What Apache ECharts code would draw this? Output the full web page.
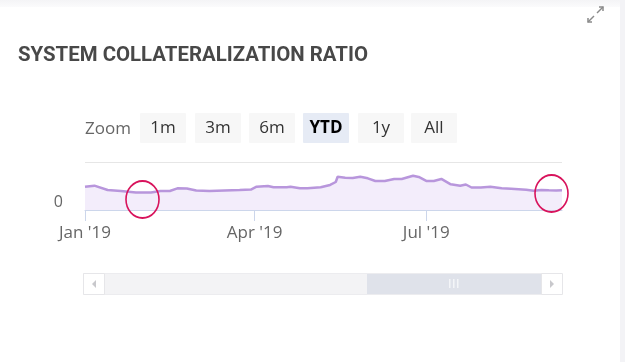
<!DOCTYPE html>
<html>
<head>
<meta charset="utf-8">
<script src="https://cdn.jsdelivr.net/npm/echarts@6/dist/echarts.min.js"></script>
<style>
html,body{margin:0;padding:0;background:#fff;}
#c{width:625px;height:362px;}
</style>
</head>
<body>
<div id="c"></div>
<script>
var titleText = 'SYSTEM COLLATERALIZATION RATIO';
var zoomLabel = 'Zoom';
var buttons = ['1m', '3m', '6m', 'YTD', '1y', 'All'];
var selectedButton = 'YTD';
var tickDates = ['2019-01-01', '2019-04-01', '2019-07-01'];
var dates = ['2019-01-01','2019-01-06','2019-01-13','2019-01-20','2019-01-28','2019-02-05','2019-02-10','2019-02-15','2019-02-19','2019-02-24','2019-03-01','2019-03-08','2019-03-16','2019-03-24','2019-03-30','2019-04-02','2019-04-08','2019-04-11','2019-04-18','2019-04-20','2019-04-25','2019-04-29','2019-05-06','2019-05-11','2019-05-14','2019-05-15','2019-05-19','2019-05-23','2019-05-27','2019-05-31','2019-06-04','2019-06-09','2019-06-14','2019-06-18','2019-06-24','2019-06-27','2019-07-01','2019-07-05','2019-07-09','2019-07-14','2019-07-19','2019-07-22','2019-07-25','2019-07-30','2019-08-04','2019-08-10','2019-08-15','2019-08-19','2019-08-23','2019-08-27','2019-08-31','2019-09-04','2019-09-08','2019-09-11'];
var ratios = [291,304,250,238,219,219,238,238,271,269,244,238,244,250,256,291,300,284,284,291,271,271,284,313,350,416,404,400,416,396,363,363,388,388,429,413,363,363,388,321,304,319,281,281,291,271,265,259,253,241,250,246,244,246];
var yMax = 600;

function ts(s){var p=s.split('-');return Date.UTC(+p[0],+p[1]-1,+p[2]);}
var monthNames=['Jan','Feb','Mar','Apr','May','Jun','Jul','Aug','Sep','Oct','Nov','Dec'];
var seriesData = dates.map(function(d,i){return [ts(d), ratios[i]];});
var tickVals = tickDates.map(ts);

var titleFont = 'bold 20px Roboto';
var mctx = document.createElement('canvas').getContext('2d');
mctx.font = titleFont;
var titleScale = 350 / mctx.measureText(titleText).width;

var graphics = [];
graphics.push({type:'rect',shape:{x:0,y:0,width:625,height:7},style:{fill:new echarts.graphic.LinearGradient(0,0,0,1,[{offset:0,color:'#f4f4f6'},{offset:1,color:'#fbfbfc'}])},silent:true});
graphics.push({type:'rect',shape:{x:620,y:0,width:5,height:362},style:{fill:'#f3f3f6'},silent:true});
graphics.push({type:'text',x:18,y:55.5,scaleX:titleScale,style:{text:titleText,font:titleFont,fill:'#484848',verticalAlign:'middle'}});
graphics.push({type:'polyline',shape:{points:[[597,13],[603,7]]},style:{stroke:'#8a8a8a',lineWidth:1.5,fill:null}});
graphics.push({type:'polyline',shape:{points:[[599,7],[603,7],[603,11]]},style:{stroke:'#8a8a8a',lineWidth:1.5,fill:null}});
graphics.push({type:'polyline',shape:{points:[[588,22],[594,16]]},style:{stroke:'#8a8a8a',lineWidth:1.5,fill:null}});
graphics.push({type:'polyline',shape:{points:[[588,18],[588,22],[592,22]]},style:{stroke:'#8a8a8a',lineWidth:1.5,fill:null}});
graphics.push({type:'text',x:85,y:129,style:{text:zoomLabel,font:'17px "Open Sans"',fill:'#666666',verticalAlign:'middle'}});
buttons.forEach(function(b,i){
  var bx=[140,195,249,303,358,411][i];
  var sel = b===selectedButton;
  graphics.push({type:'rect',shape:{x:bx,y:113,width:46,height:30,r:1},style:{fill:sel?'#e6ebf5':'#f7f7f7'}});
  graphics.push({type:'text',x:bx+23,y:128,style:{text:b,font:(sel?'bold ':'')+'17px "Open Sans"',fill:sel?'#000000':'#333333',align:'center',verticalAlign:'middle'}});
});
graphics.push({type:'rect',shape:{x:83.5,y:273.5,width:478,height:21},style:{fill:'#f3f3f5',stroke:'#ececef',lineWidth:1}});
graphics.push({type:'rect',shape:{x:367,y:274,width:175,height:20},style:{fill:'#dfe2ea'}});
graphics.push({type:'rect',shape:{x:83.5,y:273.5,width:21,height:21},style:{fill:'#ffffff',stroke:'#e6e6e9',lineWidth:1}});
graphics.push({type:'rect',shape:{x:541.5,y:273.5,width:21,height:21},style:{fill:'#ffffff',stroke:'#e6e6e9',lineWidth:1}});
graphics.push({type:'polygon',shape:{points:[[96,280],[96,288],[92,284]]},style:{fill:'#c8c8cc'}});
graphics.push({type:'polygon',shape:{points:[[550,280],[550,288],[554,284]]},style:{fill:'#c8c8cc'}});
[449,453,457].forEach(function(gx){
  graphics.push({type:'rect',shape:{x:gx,y:279,width:1.5,height:9},style:{fill:'#f4f5f8'}});
});
graphics.push({type:'circle',x:142.5,y:199.5,scaleX:1,scaleY:18.5/16.5,shape:{cx:0,cy:0,r:16.5},style:{fill:null,stroke:'#d8135c',lineWidth:1.6},z:100});
graphics.push({type:'circle',x:551.5,y:193.5,scaleX:1,scaleY:18.5/16.5,shape:{cx:0,cy:0,r:16.5},style:{fill:null,stroke:'#d8135c',lineWidth:1.6},z:100});

var chart = echarts.init(document.getElementById('c'), null, {renderer:'canvas'});
chart.setOption({
  animation:false,
  backgroundColor:'#ffffff',
  grid:{left:85,right:63,top:162,bottom:152,containLabel:false},
  xAxis:{
    type:'value',
    min:ts(dates[0]), max:ts(dates[dates.length-1]),
    axisLine:{show:true,lineStyle:{color:'#ccd6eb',width:1}},
    axisTick:{show:true,customValues:tickVals,length:11,lineStyle:{color:'#ccd6eb'}},
    axisLabel:{customValues:tickVals,color:'#666666',fontSize:17,fontFamily:'Open Sans',margin:15,
      formatter:function(v){var d=new Date(v);return monthNames[d.getUTCMonth()]+" '"+String(d.getUTCFullYear()).slice(2);}},
    splitLine:{show:false}
  },
  yAxis:{
    type:'value',min:0,max:yMax,interval:yMax,
    axisLine:{show:false},axisTick:{show:false},
    splitLine:{show:true,lineStyle:{color:'#e6e6e6',width:1}},
    axisLabel:{color:'#666666',fontSize:16,fontFamily:'Open Sans',margin:22,verticalAlign:'bottom',
      formatter:function(v){return v===0?'0':'';}}
  },
  series:[{
    type:'line',data:seriesData,showSymbol:false,smooth:false,
    lineStyle:{color:'#b896dc',width:2.5},
    itemStyle:{color:'#b896dc'},
    areaStyle:{color:'#f3edfb',opacity:1}
  }],
  graphic:graphics
});
</script>
</body>
</html>
